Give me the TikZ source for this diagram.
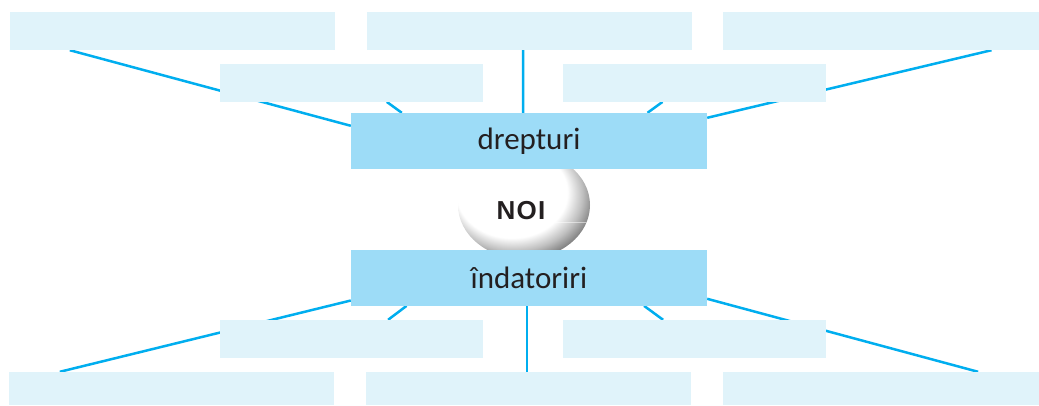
\documentclass[tikz,border=0pt]{standalone}
\usepackage{fontspec}
\setmainfont{Carlito}
\newfontfamily\noifont[LetterSpace=5]{Liberation Sans}
\usetikzlibrary{calc}
\definecolor{lightbox}{HTML}{E0F3FA}
\definecolor{mainbox}{HTML}{9DDCF7}
\definecolor{linkcol}{HTML}{00AEEF}
\definecolor{txt}{HTML}{231F20}
\pgfdeclarelayer{background}
\pgfdeclarelayer{back0}
\pgfsetlayers{back0,background,main}
\pgfdeclareradialshading{noiball}{\pgfpoint{-8bp}{10bp}}{color(0bp)=(white); color(21bp)=(white); color(26bp)=(black!25); color(30bp)=(black!50); color(34bp)=(black!65); color(50bp)=(black!70)}
\tikzset{
  lbox/.style={rectangle, fill=lightbox, draw=none, inner sep=0pt, minimum height=38pt},
  mbox/.style={rectangle, fill=mainbox, draw=none, inner sep=0pt, minimum width=356pt, minimum height=55.7pt, text=txt, font=\fontsize{31}{37}\selectfont},
  link/.style={draw=linkcol, line width=2.5pt}
}
\begin{document}
\begin{tikzpicture}[x=1pt,y=-1pt]
\begin{pgfonlayer}{back0}
\fill[white] (0,0) rectangle (1039,405);
\end{pgfonlayer}
\useasboundingbox (0,0) rectangle (1039,405);
% sphere
\shade[shading=noiball] (524,205) ellipse [x radius=66, y radius=54];
\begin{scope}
\clip (524,205) ellipse [x radius=66, y radius=54];
\draw[white, opacity=0.5, line width=0.7pt] (505,222) -- (592,222);
\end{scope}
% top row
\node[lbox, minimum width=325pt] (t1) at (172.5,31) {};
\node[lbox, minimum width=324.7pt] (t2) at (529.35,31) {};
\node[lbox, minimum width=316pt] (t3) at (881,31) {};
\node[lbox, minimum width=263pt, minimum height=37.7pt] (m1) at (351.5,82.85) {};
\node[lbox, minimum width=263pt, minimum height=37.7pt] (m2) at (694.5,82.85) {};
\node[mbox] (drp) at (529,140.85) {drepturi};
% centre
\node[text=txt, font=\noifont\bfseries\fontsize{26}{30}\selectfont] (noi) at (521,211) {NOI};
% bottom
\node[mbox] (ind) at (529,277.85) {îndatoriri};
\node[lbox, minimum width=263pt, minimum height=37.7pt] (n1) at (351.5,338.85) {};
\node[lbox, minimum width=263pt, minimum height=37.7pt] (n2) at (694.5,338.85) {};
\node[lbox, minimum width=325pt, minimum height=33pt] (b1) at (171.5,388.5) {};
\node[lbox, minimum width=325pt, minimum height=33pt] (b2) at (528.5,388.5) {};
\node[lbox, minimum width=316pt, minimum height=33pt] (b3) at (881,388.5) {};
\begin{pgfonlayer}{background}
\draw[link] ($(t1.south west)+(60,0)$) -- ($(drp.north west)+(0,13)$);
\draw[link] ($(m1.south west)+(167,0)$) -- ($(drp.north west)+(51,0)$);
\draw[link] ($(t2.south west)+(156.3,0)$) -- ($(drp.north west)+(172.3,0)$);
\draw[link] ($(m2.south west)+(99.7,0)$) -- ($(drp.north west)+(296.7,0)$);
\draw[link] ($(t3.south west)+(268.7,0)$) -- ($(drp.north east)+(0,5)$);
\draw[link] ($(ind.north west)+(0,50.7)$) -- ($(b1.north west)+(51,0)$);
\draw[link] ($(ind.south west)+(55.7,0)$) -- ($(n1.north west)+(168.3,0)$);
\draw[link] ($(ind.south west)+(176.3,0)$) -- ($(b2.north west)+(161.3,0)$);
\draw[link] ($(ind.south west)+(293.3,0)$) -- ($(n2.north west)+(100.3,0)$);
\draw[link] ($(ind.north east)+(0,49)$) -- ($(b3.north west)+(255.3,0)$);
\end{pgfonlayer}
\end{tikzpicture}
\end{document}
